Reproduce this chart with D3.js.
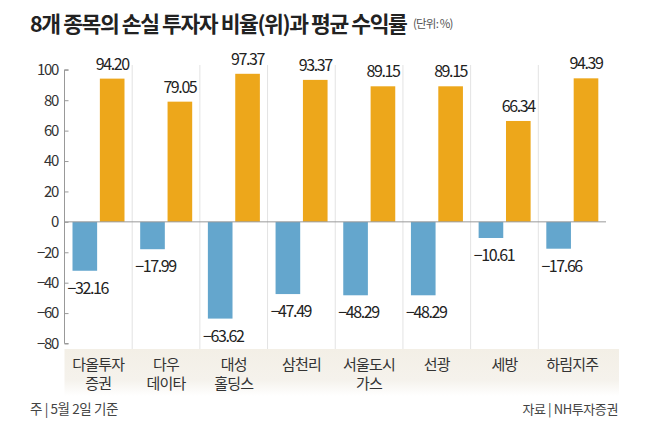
<!DOCTYPE html>
<html>
<head>
<meta charset="utf-8">
<script src="https://cdn.jsdelivr.net/npm/d3@7"></script>
<style>
  body { margin: 0; background: #fff; }
  svg text { font-family: "Noto Sans CJK KR", "Noto Sans", sans-serif; }
</style>
</head>
<body>
<div id="chart"></div>
<script>
// data
var categories = ["다올투자\n증권", "다우\n데이타", "대성\n홀딩스", "삼천리", "서울도시\n가스", "선광", "세방", "하림지주"];
var lossRatio = [-32.16, -17.99, -63.62, -47.49, -48.29, -48.29, -10.61, -17.66];
var avgReturn = [94.20, 79.05, 97.37, 93.37, 89.15, 89.15, 66.34, 94.39];
var yTicks = [100, 80, 60, 40, 20, 0, -20, -40, -60, -80];

var width = 650, height = 431;
var blue = "#64a6cd", orange = "#eda71b";

var svg = d3.select("#chart").append("svg")
  .attr("width", width)
  .attr("height", height);

var defs = svg.append("defs");
var grad = defs.append("linearGradient")
  .attr("id", "bandGrad")
  .attr("x1", 0).attr("x2", 0).attr("y1", 0).attr("y2", 1);
grad.append("stop").attr("offset", "0%").attr("stop-color", "#f3efe6");
grad.append("stop").attr("offset", "65%").attr("stop-color", "#f5f2ec");
grad.append("stop").attr("offset", "100%").attr("stop-color", "#ffffff");

var x0 = d3.scaleBand()
  .domain(categories)
  .range([64.5, 606])
  .padding(0);

var x1 = d3.scaleBand()
  .domain(["loss", "ret"])
  .range([8, 60])
  .paddingInner(0.1);

var y = d3.scaleLinear()
  .domain([-80, 100])
  .range([343.5, 69.8]);

// title
svg.append("text")
  .attr("x", 30).attr("y", 32)
  .attr("font-size", 21.5).attr("font-weight", 700)
  .attr("letter-spacing", -1.4)
  .attr("fill", "#222")
  .text("8개 종목의 손실 투자자 비율(위)과 평균 수익률");
svg.append("text")
  .attr("x", 413).attr("y", 28)
  .attr("font-size", 11.5).attr("letter-spacing", -0.8)
  .attr("fill", "#555")
  .text("(단위: %)");

// label band
svg.append("rect")
  .attr("x", 64.5).attr("y", 349)
  .attr("width", 619 - 64.5).attr("height", 47)
  .attr("fill", "url(#bandGrad)");

// group separators
svg.append("g")
  .selectAll("line")
  .data(categories.slice(1))
  .enter().append("line")
  .attr("x1", function(d) { return x0(d); })
  .attr("x2", function(d) { return x0(d); })
  .attr("y1", 65).attr("y2", 349)
  .attr("stroke", "#e3e3e3").attr("stroke-width", 1);

// y axis
var yAxis = svg.append("g")
  .attr("transform", "translate(64.5,0)")
  .call(d3.axisRight(y).tickValues(yTicks).tickSize(4).tickFormat(""));
yAxis.select(".domain").attr("stroke", "#999").attr("d", "M4," + y(100) + "H0V" + y(-80) + "H4");
yAxis.selectAll(".tick line").attr("stroke", "#999");

svg.append("g")
  .selectAll("text")
  .data(yTicks)
  .enter().append("text")
  .attr("x", 58)
  .attr("y", function(d) { return y(d); })
  .attr("dy", "0.36em")
  .attr("text-anchor", "end")
  .attr("font-size", 15).attr("letter-spacing", -1.3)
  .attr("fill", "#333")
  .text(function(d) { return d < 0 ? "\u2212" + Math.abs(d) : d; });

// bars
var groups = svg.append("g")
  .selectAll("g")
  .data(categories)
  .enter().append("g")
  .attr("transform", function(d) { return "translate(" + x0(d) + ",0)"; });

groups.append("rect")
  .attr("x", x1("loss"))
  .attr("width", x1.bandwidth())
  .attr("y", y(0))
  .attr("height", function(d, i) { return y(lossRatio[i]) - y(0); })
  .attr("fill", blue);

groups.append("rect")
  .attr("x", x1("ret"))
  .attr("width", x1.bandwidth())
  .attr("y", function(d, i) { return y(avgReturn[i]); })
  .attr("height", function(d, i) { return y(0) - y(avgReturn[i]); })
  .attr("fill", orange);

// zero line
svg.append("line")
  .attr("x1", 64.5).attr("x2", 606)
  .attr("y1", y(0)).attr("y2", y(0))
  .attr("stroke", "#999").attr("stroke-width", 1);

// value labels
groups.append("text")
  .attr("x", x1("ret") + x1.bandwidth() / 2)
  .attr("y", function(d, i) { return y(avgReturn[i]) - 9; })
  .attr("text-anchor", "middle")
  .attr("font-size", 16).attr("letter-spacing", -1.4)
  .attr("fill", "#222")
  .text(function(d, i) { return avgReturn[i].toFixed(2); });

groups.append("text")
  .attr("x", x1("loss") + x1.bandwidth() / 2 + 3)
  .attr("y", function(d, i) { return y(lossRatio[i]) + 23; })
  .attr("text-anchor", "middle")
  .attr("font-size", 16).attr("letter-spacing", -1.4)
  .attr("fill", "#222")
  .text(function(d, i) { return "\u2212" + Math.abs(lossRatio[i]).toFixed(2); });

// category labels
groups.append("text")
  .attr("text-anchor", "middle")
  .attr("font-size", 15).attr("letter-spacing", -0.8)
  .attr("fill", "#333")
  .selectAll("tspan")
  .data(function(d) { return d.split("\n"); })
  .enter().append("tspan")
  .attr("x", x0.bandwidth() / 2)
  .attr("y", function(d, i) { return 370 + i * 19; })
  .text(function(d) { return d; });

// footnotes
svg.append("text")
  .attr("x", 30).attr("y", 414)
  .attr("font-size", 13.5).attr("letter-spacing", -0.4)
  .attr("fill", "#444")
  .text("주 | 5월 2일 기준");
svg.append("text")
  .attr("x", 618).attr("y", 414)
  .attr("text-anchor", "end")
  .attr("font-size", 13).attr("letter-spacing", -0.4)
  .attr("fill", "#444")
  .text("자료 | NH투자증권");
</script>
</body>
</html>
